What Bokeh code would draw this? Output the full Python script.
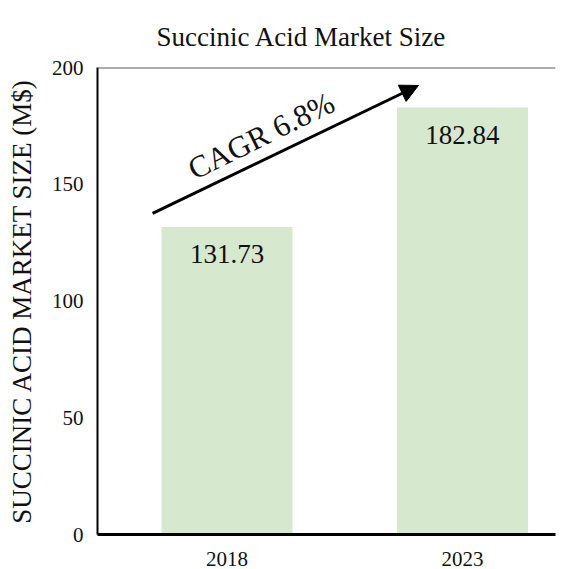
from bokeh.plotting import figure
from bokeh.models import (ColumnDataSource, FixedTicker, Span, Arrow, NormalHead)
from bokeh.core.properties import value
from bokeh.embed import file_html
from bokeh.resources import INLINE

# Market size by year (M$)
years = ["2018", "2023"]
market_size = [131.73, 182.84]
cagr_text = "CAGR 6.8%"
y_ticks = [0, 50, 100, 150, 200]

SERIF = "Liberation Serif"
BAR_COLOR = "#d6e8cd"

xpos = list(range(len(years)))
src = ColumnDataSource(dict(
    x=xpos,
    top=market_size,
    label=[f"{v:.2f}" for v in market_size],
))

p = figure(
    width=577, height=569,
    x_range=(-0.55, 1.395), y_range=(0, 200),
    output_backend="svg", toolbar_location=None,
    min_border_left=97, min_border_right=22,
    min_border_top=67, min_border_bottom=35,
)
p.outline_line_color = None
p.grid.grid_line_color = None
p.background_fill_color = "white"
p.border_fill_color = "white"

# Title
p.title.text = "Succinic Acid Market Size"
p.title.text_font = SERIF
p.title.text_font_size = "27px"
p.title.text_font_style = "normal"
p.title.text_color = "#111111"
p.title.align = "left"
p.title.offset = 59
p.title.standoff = 32

# Bars and value labels
p.vbar(x="x", top="top", width=0.556, bottom=0, source=src,
       fill_color=BAR_COLOR, line_color=None)
p.text(x="x", y="top", text="label", source=src,
       text_font=value(SERIF), text_font_size="27px",
       text_align="center", text_baseline="middle",
       y_offset=27, text_color="#111111")

# Growth arrow with its CAGR caption
p.add_layout(Arrow(
    x_start=-0.316, y_start=137.5, x_end=0.813, y_end=192.3,
    line_width=3, line_color="black",
    end=NormalHead(size=18, fill_color="black", line_color="black"),
))
p.text(x=[0.145], y=[170.8], text=[cagr_text],
       angle=0.46, text_font=value(SERIF), text_font_size="31px",
       text_align="center", text_baseline="alphabetic",
       text_color="#111111")

# Top frame edge
p.add_layout(Span(location=200, dimension="width",
                  line_color="#595959", line_width=2))

# Axes
p.yaxis.ticker = FixedTicker(ticks=y_ticks)
p.yaxis.axis_label = "SUCCINIC ACID MARKET SIZE (M$)"
p.yaxis.axis_label_text_font = SERIF
p.yaxis.axis_label_text_font_style = "normal"
p.yaxis.axis_label_text_font_size = "27px"
p.yaxis.axis_label_text_color = "#111111"
p.yaxis.axis_label_standoff = 12
p.yaxis.major_label_text_font = SERIF
p.yaxis.major_label_text_font_size = "21px"
p.yaxis.major_label_text_color = "#111111"
p.yaxis.major_label_standoff = 8
p.yaxis.axis_line_width = 2
p.yaxis.axis_line_color = "black"
p.yaxis.major_tick_line_color = None
p.yaxis.minor_tick_line_color = None

p.xaxis.ticker = FixedTicker(ticks=xpos)
p.xaxis.major_label_overrides = {i: y for i, y in zip(xpos, years)}
p.xaxis.major_label_text_font = SERIF
p.xaxis.major_label_text_font_size = "21px"
p.xaxis.major_label_text_color = "#111111"
p.xaxis.major_label_standoff = 11
p.xaxis.axis_line_width = 3
p.xaxis.axis_line_color = "black"
p.xaxis.major_tick_line_color = None
p.xaxis.minor_tick_line_color = None

open("out.html", "w").write(file_html(p, INLINE))
